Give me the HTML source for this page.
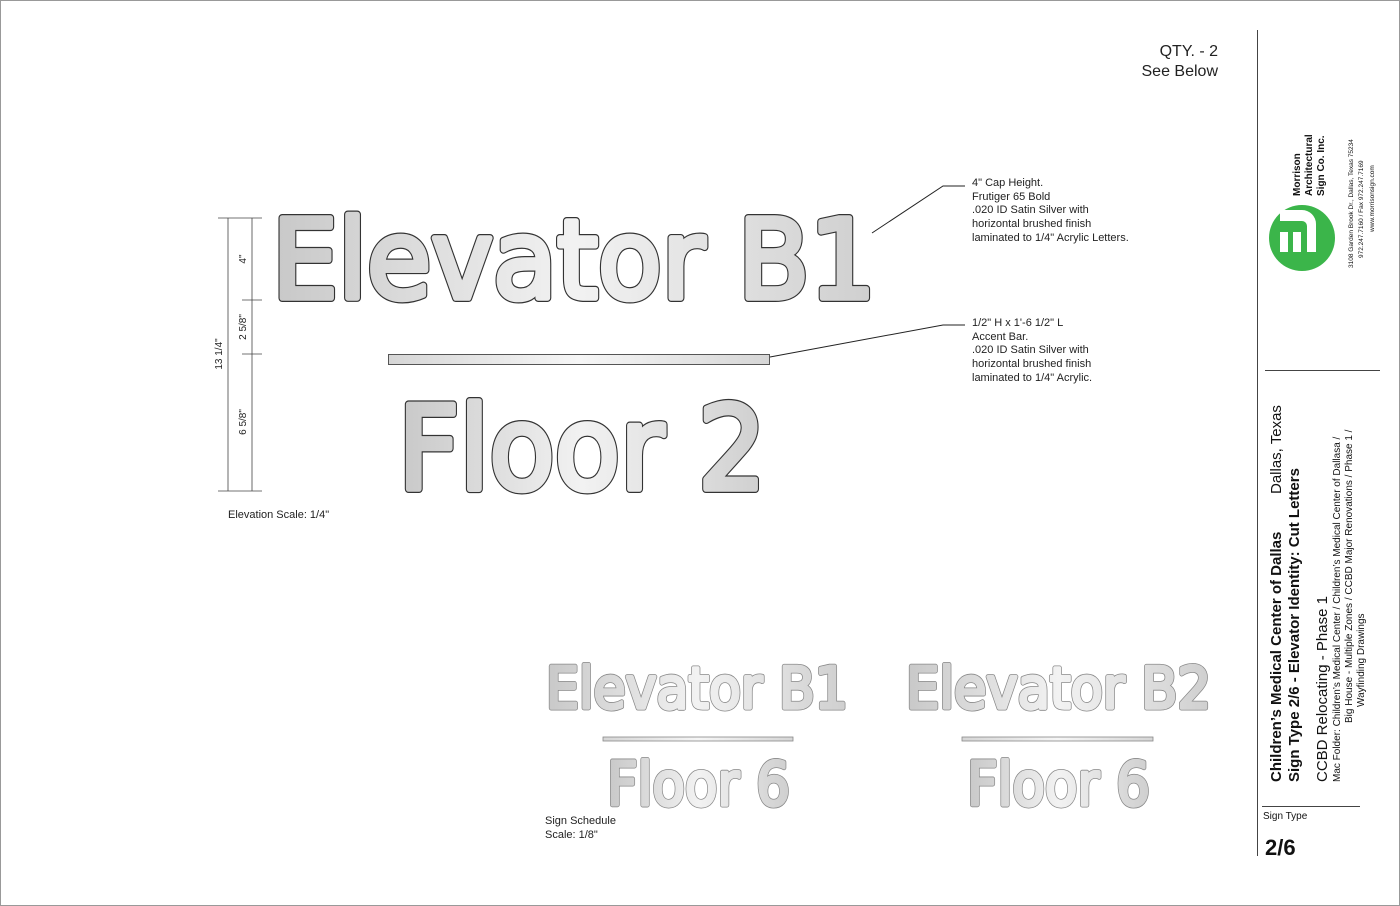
<!DOCTYPE html>
<html><head><style>
html,body{margin:0;padding:0;background:#fff}
svg{display:block}
text{font-family:"Liberation Sans",sans-serif}
.f{font-family:"DejaVu Sans",sans-serif;font-weight:normal}
.bo{fill:#333;stroke:#333;stroke-width:8;stroke-linejoin:round}
.bi{fill:url(#g);stroke:url(#g);stroke-width:5.6;stroke-linejoin:round}
.so{fill:#888;stroke:#888;stroke-width:5;stroke-linejoin:round}
.si{fill:url(#g);stroke:url(#g);stroke-width:3.4;stroke-linejoin:round}
</style></head><body>
<svg width="1400" height="906" viewBox="0 0 1400 906" xmlns="http://www.w3.org/2000/svg">
<defs>
<linearGradient id="g" x1="0" x2="1" y1="0" y2="0">
<stop offset="0" stop-color="#c8c8c8"/><stop offset="0.5" stop-color="#f2f2f2"/><stop offset="1" stop-color="#cfcfcf"/>
</linearGradient>
<linearGradient id="b" x1="0" x2="1"><stop offset="0" stop-color="#d6d6d6"/><stop offset="0.5" stop-color="#f6f6f6"/><stop offset="1" stop-color="#d6d6d6"/></linearGradient>
</defs>
<rect x="0.5" y="0.5" width="1399" height="905" fill="none" stroke="#999"/>
<text x="1218" y="56" font-size="16" text-anchor="end" fill="#222">QTY. - 2</text>
<text x="1218" y="76" font-size="16" text-anchor="end" fill="#222">See Below</text>

<text class="f bo" x="272" y="298" font-size="110" textLength="604" lengthAdjust="spacingAndGlyphs">Elevator B1</text>
<text class="f bi" x="272" y="298" font-size="110" textLength="604" lengthAdjust="spacingAndGlyphs">Elevator B1</text>
<rect x="388.5" y="354.5" width="381" height="10" fill="url(#b)" stroke="#555"/>
<text class="f bo" x="398" y="489" font-size="116" textLength="368" lengthAdjust="spacingAndGlyphs">Floor 2</text>
<text class="f bi" x="398" y="489" font-size="116" textLength="368" lengthAdjust="spacingAndGlyphs">Floor 2</text>

<g stroke="#444" stroke-width="0.8" fill="none">
<line x1="228" y1="218" x2="228" y2="491"/><line x1="252" y1="218" x2="252" y2="491"/>
<line x1="218" y1="218" x2="262" y2="218"/><line x1="242" y1="300" x2="262" y2="300"/>
<line x1="242" y1="354" x2="262" y2="354"/><line x1="218" y1="491" x2="262" y2="491"/>
</g>
<g font-size="10" fill="#222">
<text transform="translate(246,259) rotate(-90)" text-anchor="middle">4"</text>
<text transform="translate(246,327) rotate(-90)" text-anchor="middle">2 5/8"</text>
<text transform="translate(246,422) rotate(-90)" text-anchor="middle">6 5/8"</text>
<text transform="translate(222,354) rotate(-90)" text-anchor="middle">13 1/4"</text>
</g>
<text x="228" y="518" font-size="11" fill="#222">Elevation Scale: 1/4"</text>

<polyline points="872,233 943,186 965,186" fill="none" stroke="#222" stroke-width="1"/>
<polyline points="770,357 943,325 965,325" fill="none" stroke="#222" stroke-width="1"/>
<g font-size="11" fill="#222">
<text x="972" y="186">4" Cap Height.</text>
<text x="972" y="200">Frutiger 65 Bold</text>
<text x="972" y="213">.020 ID Satin Silver with</text>
<text x="972" y="227">horizontal brushed finish</text>
<text x="972" y="241">laminated to 1/4" Acrylic Letters.</text>
<text x="972" y="326">1/2" H x 1'-6 1/2" L</text>
<text x="972" y="340">Accent Bar.</text>
<text x="972" y="353">.020 ID Satin Silver with</text>
<text x="972" y="367">horizontal brushed finish</text>
<text x="972" y="381">laminated to 1/4" Acrylic.</text>
</g>

<text class="f so" x="546" y="708" font-size="57" textLength="302" lengthAdjust="spacingAndGlyphs">Elevator B1</text>
<text class="f si" x="546" y="708" font-size="57" textLength="302" lengthAdjust="spacingAndGlyphs">Elevator B1</text>
<rect x="603" y="737" width="190" height="4" fill="url(#b)" stroke="#888" stroke-width="0.8"/>
<text class="f so" x="607" y="805" font-size="60" textLength="183" lengthAdjust="spacingAndGlyphs">Floor 6</text>
<text class="f si" x="607" y="805" font-size="60" textLength="183" lengthAdjust="spacingAndGlyphs">Floor 6</text>
<text class="f so" x="906" y="708" font-size="57" textLength="305" lengthAdjust="spacingAndGlyphs">Elevator B2</text>
<text class="f si" x="906" y="708" font-size="57" textLength="305" lengthAdjust="spacingAndGlyphs">Elevator B2</text>
<rect x="962" y="737" width="191" height="4" fill="url(#b)" stroke="#888" stroke-width="0.8"/>
<text class="f so" x="967" y="805" font-size="60" textLength="183" lengthAdjust="spacingAndGlyphs">Floor 6</text>
<text class="f si" x="967" y="805" font-size="60" textLength="183" lengthAdjust="spacingAndGlyphs">Floor 6</text>
<text x="545" y="824" font-size="11" fill="#222">Sign Schedule</text>
<text x="545" y="838" font-size="11" fill="#222">Scale: 1/8"</text>

<line x1="1257.5" y1="30" x2="1257.5" y2="856" stroke="#444" stroke-width="1"/>
<line x1="1265" y1="370.5" x2="1380" y2="370.5" stroke="#444" stroke-width="1"/>
<line x1="1262" y1="806.5" x2="1360" y2="806.5" stroke="#444" stroke-width="1"/>

<circle cx="1302" cy="238" r="33" fill="#3bb54a"/>
<path d="M1280,210 h22 a14,14 0 0 1 14,14 v28 h-9 v-26 a5,5 0 0 0 -5,-5 h-22z" fill="#fff"/>
<path d="M1280,232 h8 v20 h-8z M1293,232 h8 v20 h-8z" fill="#fff"/>
<g font-weight="bold" font-size="10" fill="#111">
<text transform="translate(1300,196) rotate(-90)">Morrison</text>
<text transform="translate(1312,196) rotate(-90)">Architectural</text>
<text transform="translate(1324,196) rotate(-90)">Sign Co. Inc.</text>
</g>
<g font-size="6.5" fill="#111">
<text transform="translate(1353,268) rotate(-90)">3108 Garden Brook Dr., Dallas, Texas 75234</text>
<text transform="translate(1363,258) rotate(-90)">972.247.7160 / Fax 972.247.7169</text>
<text transform="translate(1374,232) rotate(-90)">www.morrisonsign.com</text>
</g>

<g fill="#111">
<text transform="translate(1281,782) rotate(-90)" font-size="15" font-weight="bold">Children’s Medical Center of Dallas</text>
<text transform="translate(1281,494) rotate(-90)" font-size="15">Dallas, Texas</text>
<text transform="translate(1299,782) rotate(-90)" font-size="15" font-weight="bold">Sign Type 2/6 - Elevator Identity: Cut Letters</text>
<text transform="translate(1327,782) rotate(-90)" font-size="15">CCBD Relocating - Phase 1</text>
<text transform="translate(1340,782) rotate(-90)" font-size="10">Mac Folder: Children’s Medical Center / Children’s Medical Center of Dallasa /</text>
<text transform="translate(1352,723) rotate(-90)" font-size="10">Big House - Multiple Zones / CCBD Major Renovations / Phase 1 /</text>
<text transform="translate(1364,707) rotate(-90)" font-size="10">Wayfinding Drawings</text>
</g>
<text x="1263" y="819" font-size="10" fill="#111">Sign Type</text>
<text x="1265" y="855" font-size="22" font-weight="bold" fill="#111">2/6</text>
</svg>
</body></html>
